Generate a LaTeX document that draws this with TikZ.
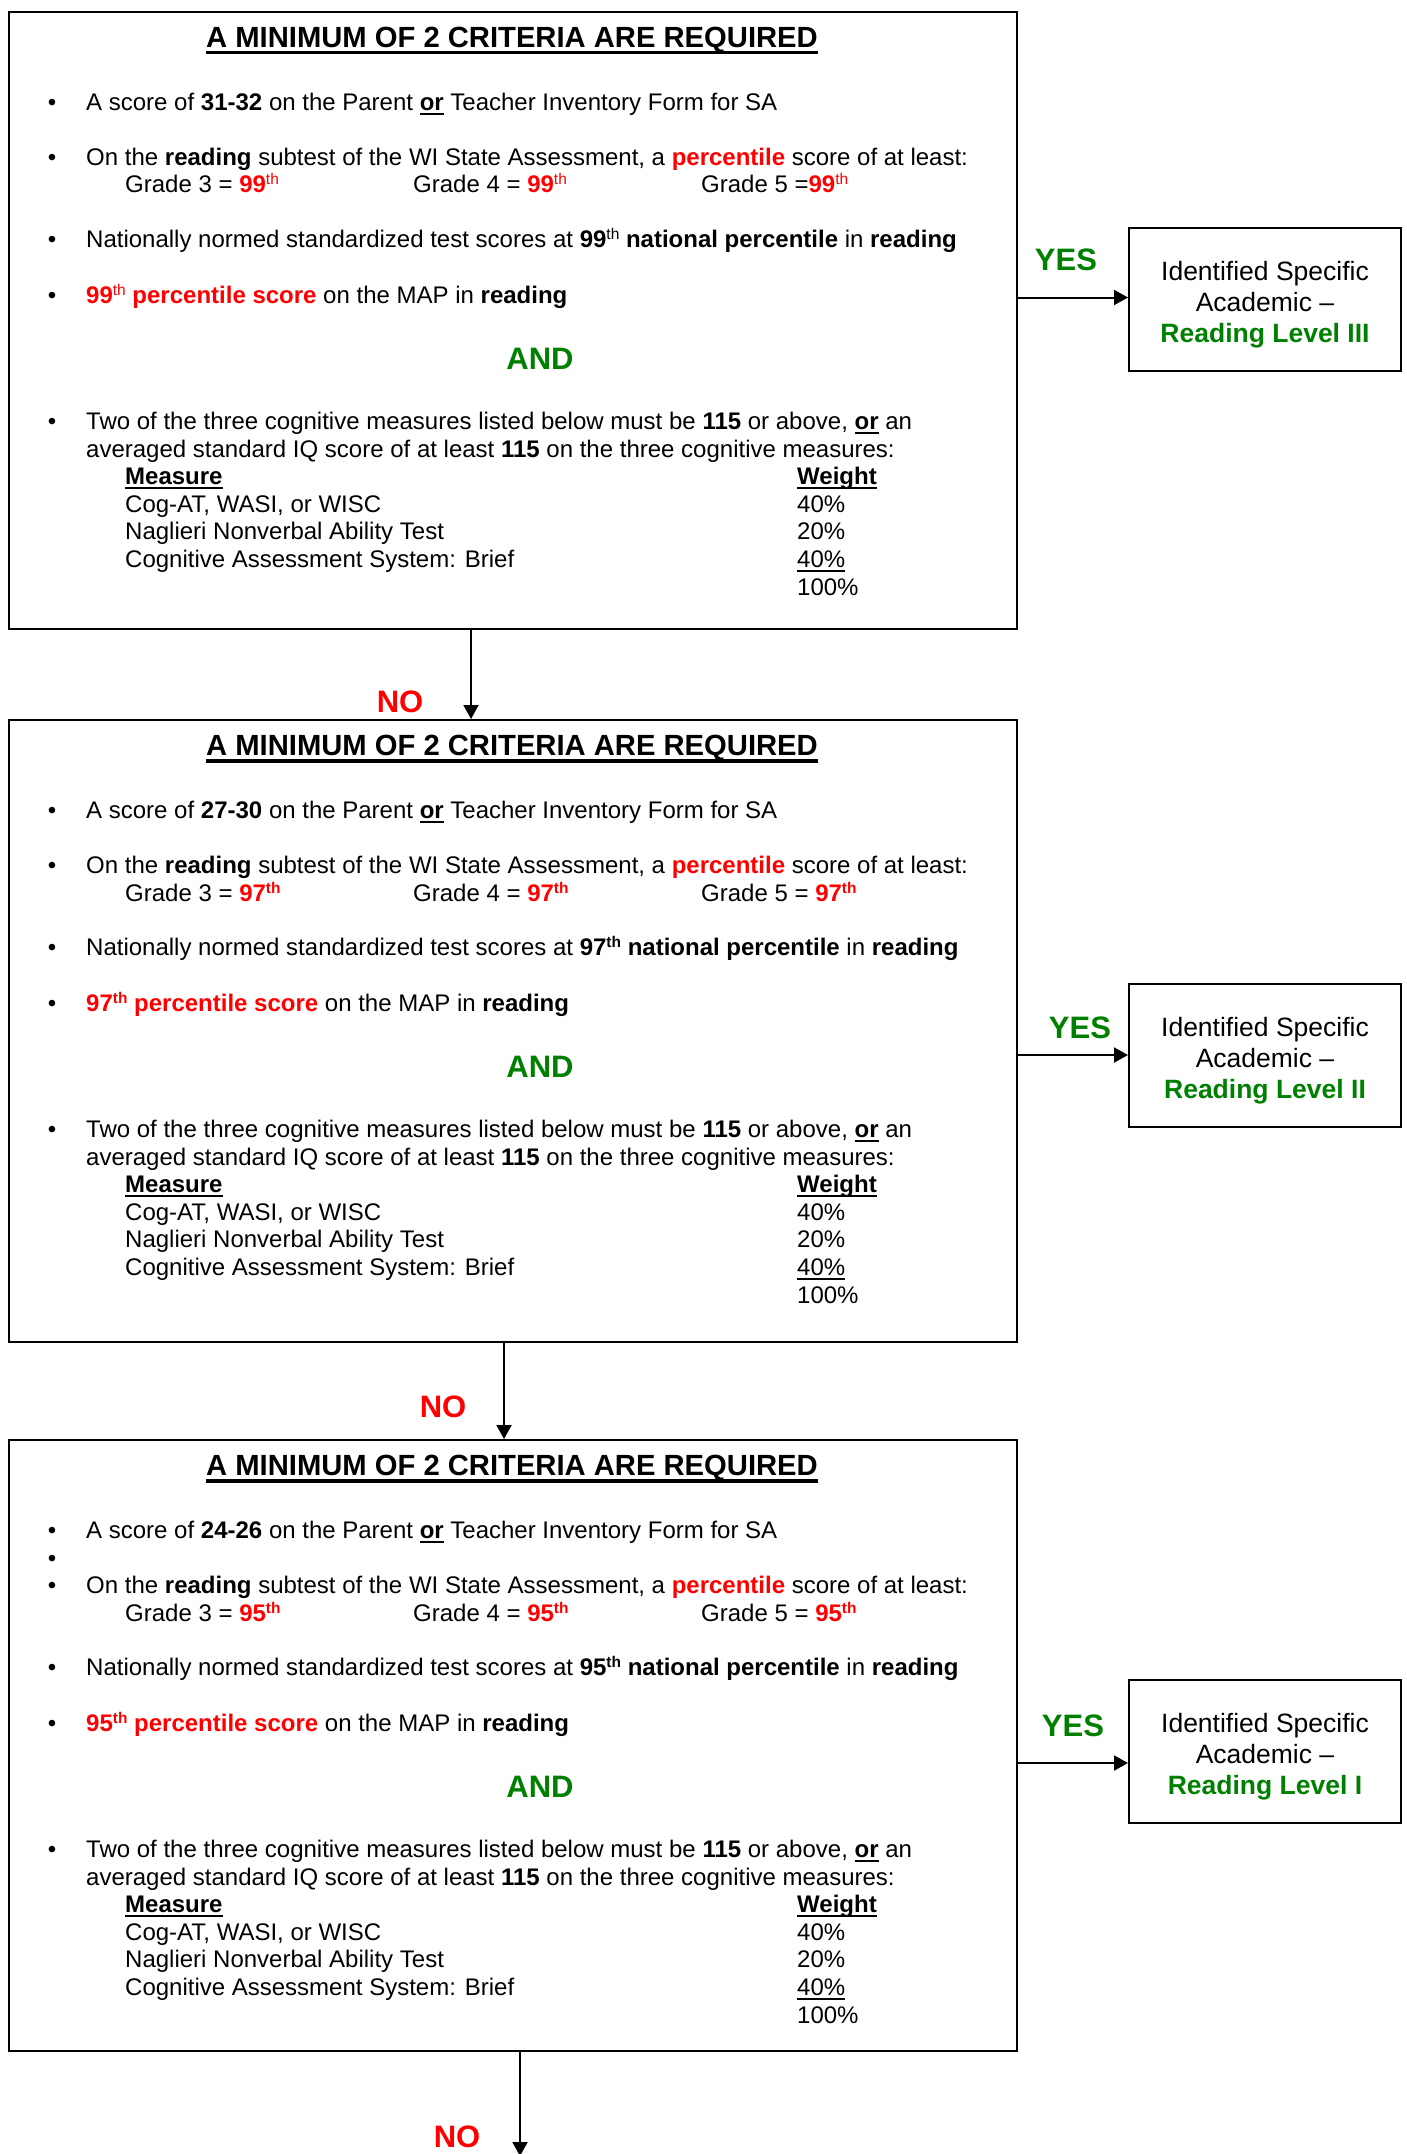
\documentclass[tikz,border=0pt]{standalone}
\usepackage{fontspec}
\setmainfont{Liberation Sans}
\usetikzlibrary{arrows.meta}
\definecolor{rd}{RGB}{255,0,0}
\definecolor{gr}{RGB}{0,128,0}
\newsavebox\ulsave
\newcommand\ulthin[1]{\sbox\ulsave{#1}\rlap{\rule[-4.5pt]{\wd\ulsave}{2pt}}\usebox\ulsave}
\newcommand\ulthick[1]{\sbox\ulsave{#1}\rlap{\rule[-7pt]{\wd\ulsave}{3.5pt}}\usebox\ulsave}
\newcommand\sups[2]{\raisebox{8pt}{\fontsize{15.5}{15.5}\selectfont #1#2}}
\tikzset{
 txt/.style={anchor=base west, inner sep=0pt, font=\fontsize{24}{27.5}\selectfont},
 bul/.style={anchor=base, inner sep=0pt, font=\fontsize{24}{27.5}\selectfont},
 ttl/.style={anchor=base, inner sep=0pt, font=\fontsize{29.2}{32}\selectfont\bfseries},
 lbl/.style={inner sep=0pt, font=\fontsize{31}{34}\selectfont\bfseries},
 mainbox/.style={draw, line width=2pt, anchor=north west, minimum width=1008pt, inner sep=0pt},
 resbox/.style={draw, line width=2pt, anchor=north west, minimum width=272pt, minimum height=143pt, inner sep=0pt},
 restxt/.style={anchor=base, inner sep=0pt, font=\fontsize{26.5}{31}\selectfont},
 arr/.style={line width=2pt, -{Triangle[length=14pt,width=15pt]}},
}
% #1 name, #2 shift, #3 height, #4 range, #5 pct, #6 th series, #7 grade5 sep, #8 extra
\newcommand\critbox[8]{%
 \begin{scope}[shift={(0,#2)}]
 \node[mainbox, minimum height=#3pt] (#1) at (8,11) {};
 \node[ttl] (#1t) at (512,47.5) {\ulthick{A MINIMUM OF 2 CRITERIA ARE REQUIRED}};
 \node[bul] (#1d1) at (52,110.5) {•};
 \node[txt] (#1l1) at (86,110.5) {A score of \textbf{#4} on the Parent \textbf{\ulthin{or}} Teacher Inventory Form for SA};
 #8
 \node[bul] (#1d2) at (52,165.5) {•};
 \node[txt] (#1l2) at (86,165.5) {On the \textbf{reading} subtest of the WI State Assessment, a \textcolor{rd}{\textbf{percentile}} score of at least:};
 \node[txt] (#1g3) at (125,193) {Grade 3 = \textcolor{rd}{\textbf{#5}\textbf{\sups{#6}{th}}}};
 \node[txt] (#1g4) at (413,193) {Grade 4 = \textcolor{rd}{\textbf{#5}\textbf{\sups{#6}{th}}}};
 \node[txt] (#1g5) at (701,193) {Grade 5 #7\textcolor{rd}{\textbf{#5}\textbf{\sups{#6}{th}}}};
 \node[bul] (#1d3) at (52,247.5) {•};
 \node[txt] (#1l3) at (86,247.5) {Nationally normed standardized test scores at \textbf{#5\sups{#6}{th}} \textbf{national percentile} in \textbf{reading}};
 \node[bul] (#1d4) at (52,303.5) {•};
 \node[txt] (#1l4) at (86,303.5) {\textcolor{rd}{\textbf{#5\sups{#6}{th} percentile score}} on the MAP in \textbf{reading}};
 \node[lbl, text=gr] (#1and) at (540,359) {AND};
 \node[bul] (#1d5) at (52,429) {•};
 \node[txt] (#1l5) at (86,429) {Two of the three cognitive measures listed below must be \textbf{115} or above, \textbf{\ulthin{or}} an};
 \node[txt] (#1l6) at (86,457) {averaged standard IQ score of at least \textbf{115} on the three cognitive measures:};
 \node[txt] (#1m0) at (125,484.5) {\textbf{\ulthin{Measure}}};
 \node[txt] (#1w0) at (797,484.5) {\textbf{\ulthin{Weight}}};
 \node[txt] (#1m1) at (125,512) {Cog-AT, WASI, or WISC};
 \node[txt] (#1w1) at (797,512) {40\%};
 \node[txt] (#1m2) at (125,539.5) {Naglieri Nonverbal Ability Test};
 \node[txt] (#1w2) at (797,539.5) {20\%};
 \node[txt] (#1m3) at (125,567) {Cognitive Assessment System: Brief};
 \node[txt] (#1w3) at (797,567) {\ulthin{40\%}};
 \node[txt] (#1w4) at (797,595) {100\%};
 \end{scope}}
\newcommand\resultbox[3]{%
 \node[resbox] (#1) at (1128,#2) {};
 \node[restxt] (#1a) at ([yshift=-53pt]#1.north) {Identified Specific};
 \node[restxt] (#1b) at ([yshift=-84pt]#1.north) {Academic –};
 \node[restxt, text=gr, font=\fontsize{26.5}{31}\selectfont\bfseries] (#1c) at ([yshift=-115.5pt]#1.north) {#3};
}
\begin{document}
\begin{tikzpicture}[x=1pt, y=-1pt]
\useasboundingbox (0,0) rectangle (1406,2154);
\fill[white] (0,0) rectangle (1406,2154);
\critbox{bA}{0}{617}{31-32}{99}{\mdseries}{=}{}
\critbox{bB}{708}{622}{27-30}{97}{\bfseries}{= }{}
\critbox{bC}{1428}{611}{24-26}{95}{\bfseries}{= }{\node[bul] (bCdx) at (52,138) {•};}
\resultbox{rA}{227}{Reading Level III}
\resultbox{rB}{983}{Reading Level II}
\resultbox{rC}{1679}{Reading Level I}
% coordinates
\coordinate (xa) at (471,0);
\coordinate (xb) at (504,0);
\coordinate (xc) at (520,0);
\coordinate (endc) at (520,2156);
\coordinate (ya) at (0,297.5);
\coordinate (yb) at (0,1055);
\coordinate (yc) at (0,1763);
% down arrows
\draw[arr] (bA.south -| xa) -- (bB.north -| xa);
\draw[arr] (bB.south -| xb) -- (bC.north -| xb);
\draw[arr] (bC.south -| xc) -- (endc);
% right arrows
\draw[arr] (bA.east |- ya) -- (rA.west |- ya);
\draw[arr] (bB.east |- yb) -- (rB.west |- yb);
\draw[arr] (bC.east |- yc) -- (rC.west |- yc);
% labels
\node[lbl, text=rd] (noA) at (400,702) {NO};
\node[lbl, text=rd] (noB) at (443,1407) {NO};
\node[lbl, text=rd] (noC) at (457,2137) {NO};
\node[lbl, text=gr] (yesA) at (1066,260) {YES};
\node[lbl, text=gr] (yesB) at (1080,1028) {YES};
\node[lbl, text=gr] (yesC) at (1073,1726) {YES};
\end{tikzpicture}
\end{document}
